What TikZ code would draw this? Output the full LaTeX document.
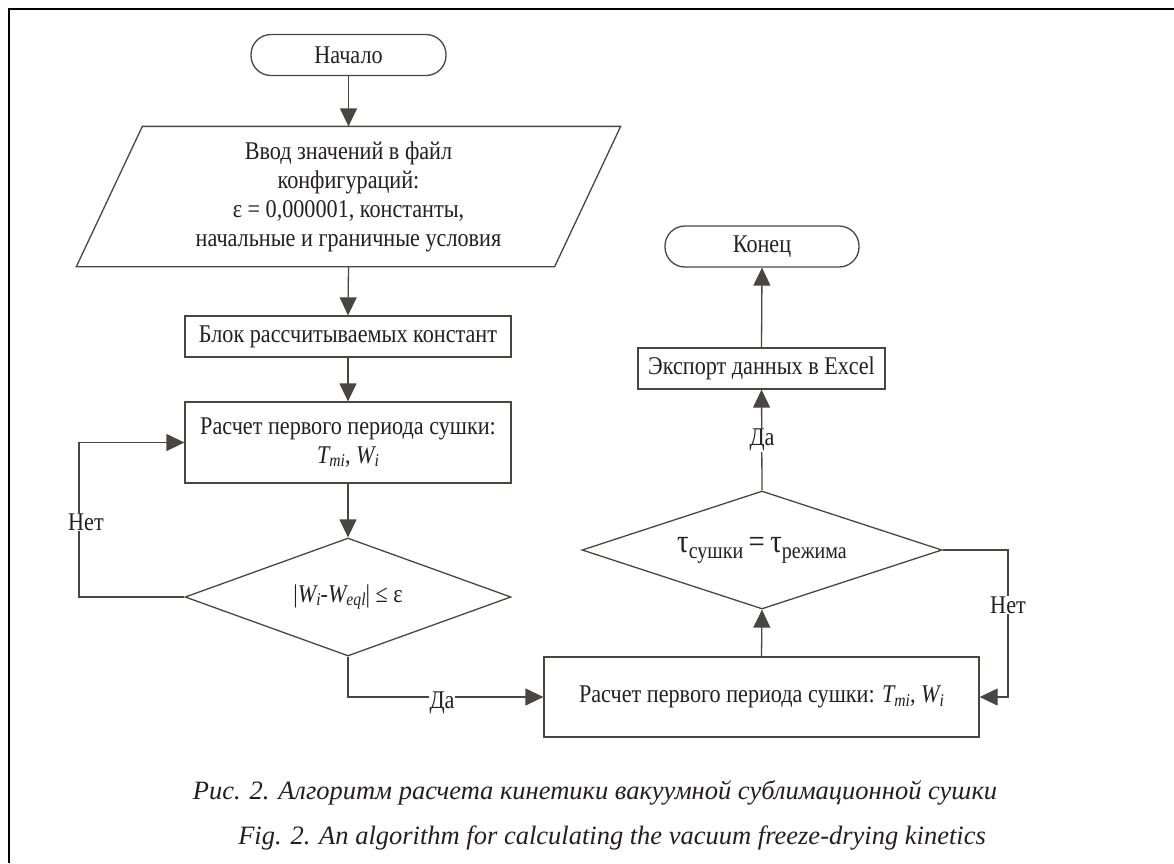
\documentclass[tikz,border=0pt]{standalone}
\usepackage{fontspec}
\setmainfont{Liberation Serif}[FakeStretch=0.87]
\newfontfamily\capfont{Liberation Serif}
\usetikzlibrary{shapes.geometric,arrows.meta}
\definecolor{ln}{HTML}{4A4541}
\definecolor{tx}{HTML}{231F20}
\newcommand{\sbs}[1]{\raisebox{-0.3ex}{\fontsize{18}{18}\selectfont #1}}
\tikzset{
  base/.style={draw=ln, line width=1.3pt, text=tx, font=\fontsize{25.5}{29}\selectfont, align=center, inner sep=0pt},
  term/.style={base, rectangle, rounded corners=20pt, minimum height=41, minimum width=195},
  proc/.style={base, rectangle},
  dec/.style={base, diamond},
  conn/.style={draw=ln, line width=1.3pt, -{Triangle[width=17pt,length=18pt]}},
  line/.style={draw=ln, line width=1.3pt},
  lbl/.style={fill=white, text=tx, font=\fontsize{25.5}{29}\selectfont, inner sep=1pt},
  captxt/.style={text=tx, font=\capfont\fontsize{26.5}{30}\selectfont\itshape},
}
\begin{document}
\begin{tikzpicture}[x=1pt,y=-1pt]
\useasboundingbox (0,0) rectangle (1174,863);
\draw[black, line width=2pt] (9,863) -- (9,9) -- (1174,9);

\node[term] (start) at (348.5,55) {Начало};
\node[base, draw=none, minimum width=477, minimum height=139] (io) at (348.5,196.5)
  {Ввод значений в файл\\конфигураций:\\ε = 0,000001, константы,\\начальные и граничные условия};
\draw[line] ([xshift=-33pt]io.south west) -- ([xshift=-33pt]io.south east) -- ([xshift=33pt]io.north east) -- ([xshift=33pt]io.north west) -- cycle;
\node[proc, minimum width=326, minimum height=41] (blok) at (348,336.5) {Блок рассчитываемых констант};
\node[proc, minimum width=326, minimum height=81] (calc1) at (348,442.5) {Расчет первого периода сушки:\\\textit{T\sbs{mi}}, \textit{W\sbs{i}}};
\node[dec, minimum width=326, minimum height=118, aspect=2.76] (dec1) at (348,597) {|\textit{W\sbs{i}}-\textit{W\sbs{eql}}| ≤ ε};
\node[proc, minimum width=435, minimum height=80] (calc2) at (761.5,697) {Расчет первого периода сушки: \textit{T\sbs{mi}}, \textit{W\sbs{i}}};
\node[dec, minimum width=360, minimum height=118, aspect=3.05] (dec2) at (762,550)
  {{\fontsize{33}{33}\selectfont τ}\raisebox{-0.5ex}{\fontsize{23}{23}\selectfont сушки}{\fontsize{33}{33}\selectfont\,=\,τ}\raisebox{-0.5ex}{\fontsize{23}{23}\selectfont режима}};
\node[proc, minimum width=247, minimum height=41] (export) at (761.5,368.5) {Экспорт данных в Excel};
\node[term, minimum width=194] (end) at (762,246.5) {Конец};

\coordinate (n1) at (79,597);
\coordinate (n1t) at (79,442.5);
\coordinate (d1) at (348,697);
\coordinate (n2) at (1008,550);
\coordinate (n2b) at (1008,697);

\draw[conn] (start.south) -- (io.north);
\draw[conn] (io.south) -- (blok.north);
\draw[conn] (blok.south) -- (calc1.north);
\draw[conn] (calc1.south) -- (dec1.north);
\draw[conn] (dec1.west) -- (n1) -- (n1t) -- (calc1.west);
\node[lbl] (net1) at (86,522) {Нет};
\draw[conn] (dec1.south) -- (d1) -- (calc2.west);
\node[lbl] (da1) at (442,703) {Да};
\draw[conn] (calc2.north) -- (dec2.south);
\draw[conn] (dec2.north) -- (export.south);
\node[lbl] (da2) at (762,440) {Да};
\draw[conn] (export.north) -- (end.south);
\draw[conn] (dec2.east) -- (n2) -- (n2b) -- (calc2.east);
\node[lbl] (net2) at (1008,605) {Нет};

\node[captxt] (cap1) at (595,793) {Рис. 2. Алгоритм расчета кинетики вакуумной сублимационной сушки};
\node[captxt] (cap2) at (612,838) {Fig. 2. An algorithm for calculating the vacuum freeze-drying kinetics};
\end{tikzpicture}
\end{document}
